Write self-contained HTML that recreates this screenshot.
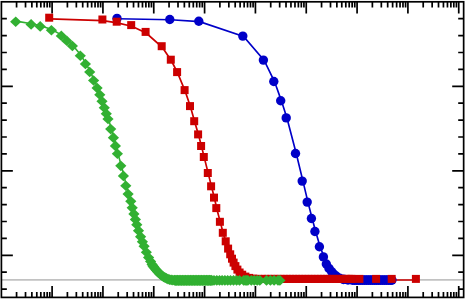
<!DOCTYPE html>
<html><head><meta charset="utf-8"><title>chart</title>
<style>html,body{margin:0;padding:0;background:#fff;font-family:"Liberation Sans",sans-serif;}svg{display:block}</style>
</head><body>
<svg width="465" height="299" viewBox="0 0 465 299">
<rect x="0" y="0" width="465" height="299" fill="#fff"/>
<line x1="2" y1="279.9" x2="463" y2="279.9" stroke="#c2c2c2" stroke-width="1.75"/>
<path d="M16.57 1.8 V7.50 M16.57 297.4 V292.10 M25.52 1.8 V7.50 M25.52 297.4 V292.10 M31.87 1.8 V7.50 M31.87 297.4 V292.10 M36.80 1.8 V7.50 M36.80 297.4 V292.10 M40.82 1.8 V7.50 M40.82 297.4 V292.10 M44.23 1.8 V7.50 M44.23 297.4 V292.10 M47.17 1.8 V7.50 M47.17 297.4 V292.10 M49.77 1.8 V7.50 M49.77 297.4 V292.10 M52.10 1.8 V13.50 M52.10 297.4 V286.10 M67.40 1.8 V7.50 M67.40 297.4 V292.10 M76.35 1.8 V7.50 M76.35 297.4 V292.10 M82.70 1.8 V7.50 M82.70 297.4 V292.10 M87.63 1.8 V7.50 M87.63 297.4 V292.10 M91.65 1.8 V7.50 M91.65 297.4 V292.10 M95.06 1.8 V7.50 M95.06 297.4 V292.10 M98.00 1.8 V7.50 M98.00 297.4 V292.10 M100.60 1.8 V7.50 M100.60 297.4 V292.10 M102.93 1.8 V13.50 M102.93 297.4 V286.10 M118.23 1.8 V7.50 M118.23 297.4 V292.10 M127.18 1.8 V7.50 M127.18 297.4 V292.10 M133.53 1.8 V7.50 M133.53 297.4 V292.10 M138.46 1.8 V7.50 M138.46 297.4 V292.10 M142.48 1.8 V7.50 M142.48 297.4 V292.10 M145.89 1.8 V7.50 M145.89 297.4 V292.10 M148.83 1.8 V7.50 M148.83 297.4 V292.10 M151.43 1.8 V7.50 M151.43 297.4 V292.10 M153.76 1.8 V13.50 M153.76 297.4 V286.10 M169.06 1.8 V7.50 M169.06 297.4 V292.10 M178.01 1.8 V7.50 M178.01 297.4 V292.10 M184.36 1.8 V7.50 M184.36 297.4 V292.10 M189.29 1.8 V7.50 M189.29 297.4 V292.10 M193.31 1.8 V7.50 M193.31 297.4 V292.10 M196.72 1.8 V7.50 M196.72 297.4 V292.10 M199.66 1.8 V7.50 M199.66 297.4 V292.10 M202.26 1.8 V7.50 M202.26 297.4 V292.10 M204.59 1.8 V13.50 M204.59 297.4 V286.10 M219.89 1.8 V7.50 M219.89 297.4 V292.10 M228.84 1.8 V7.50 M228.84 297.4 V292.10 M235.19 1.8 V7.50 M235.19 297.4 V292.10 M240.12 1.8 V7.50 M240.12 297.4 V292.10 M244.14 1.8 V7.50 M244.14 297.4 V292.10 M247.55 1.8 V7.50 M247.55 297.4 V292.10 M250.49 1.8 V7.50 M250.49 297.4 V292.10 M253.09 1.8 V7.50 M253.09 297.4 V292.10 M255.42 1.8 V13.50 M255.42 297.4 V286.10 M270.72 1.8 V7.50 M270.72 297.4 V292.10 M279.67 1.8 V7.50 M279.67 297.4 V292.10 M286.02 1.8 V7.50 M286.02 297.4 V292.10 M290.95 1.8 V7.50 M290.95 297.4 V292.10 M294.97 1.8 V7.50 M294.97 297.4 V292.10 M298.38 1.8 V7.50 M298.38 297.4 V292.10 M301.32 1.8 V7.50 M301.32 297.4 V292.10 M303.92 1.8 V7.50 M303.92 297.4 V292.10 M306.25 1.8 V13.50 M306.25 297.4 V286.10 M321.55 1.8 V7.50 M321.55 297.4 V292.10 M330.50 1.8 V7.50 M330.50 297.4 V292.10 M336.85 1.8 V7.50 M336.85 297.4 V292.10 M341.78 1.8 V7.50 M341.78 297.4 V292.10 M345.80 1.8 V7.50 M345.80 297.4 V292.10 M349.21 1.8 V7.50 M349.21 297.4 V292.10 M352.15 1.8 V7.50 M352.15 297.4 V292.10 M354.75 1.8 V7.50 M354.75 297.4 V292.10 M357.08 1.8 V13.50 M357.08 297.4 V286.10 M372.38 1.8 V7.50 M372.38 297.4 V292.10 M381.33 1.8 V7.50 M381.33 297.4 V292.10 M387.68 1.8 V7.50 M387.68 297.4 V292.10 M392.61 1.8 V7.50 M392.61 297.4 V292.10 M396.63 1.8 V7.50 M396.63 297.4 V292.10 M400.04 1.8 V7.50 M400.04 297.4 V292.10 M402.98 1.8 V7.50 M402.98 297.4 V292.10 M405.58 1.8 V7.50 M405.58 297.4 V292.10 M407.91 1.8 V13.50 M407.91 297.4 V286.10 M423.21 1.8 V7.50 M423.21 297.4 V292.10 M432.16 1.8 V7.50 M432.16 297.4 V292.10 M438.51 1.8 V7.50 M438.51 297.4 V292.10 M443.44 1.8 V7.50 M443.44 297.4 V292.10 M447.46 1.8 V7.50 M447.46 297.4 V292.10 M450.87 1.8 V7.50 M450.87 297.4 V292.10 M453.81 1.8 V7.50 M453.81 297.4 V292.10 M456.41 1.8 V7.50 M456.41 297.4 V292.10 M458.74 1.8 V13.50 M458.74 297.4 V286.10 M1.4 18.70 H6.85 M463.65 18.70 H458.20 M1.4 35.60 H6.85 M463.65 35.60 H458.20 M1.4 52.50 H6.85 M463.65 52.50 H458.20 M1.4 69.40 H6.85 M463.65 69.40 H458.20 M1.4 86.30 H12.85 M463.65 86.30 H452.20 M1.4 103.20 H6.85 M463.65 103.20 H458.20 M1.4 120.10 H6.85 M463.65 120.10 H458.20 M1.4 137.00 H6.85 M463.65 137.00 H458.20 M1.4 153.90 H6.85 M463.65 153.90 H458.20 M1.4 170.80 H12.85 M463.65 170.80 H452.20 M1.4 187.70 H6.85 M463.65 187.70 H458.20 M1.4 204.60 H6.85 M463.65 204.60 H458.20 M1.4 221.50 H6.85 M463.65 221.50 H458.20 M1.4 238.40 H6.85 M463.65 238.40 H458.20 M1.4 255.30 H12.85 M463.65 255.30 H452.20 M1.4 272.20 H6.85 M463.65 272.20 H458.20 M1.4 289.10 H6.85 M463.65 289.10 H458.20" stroke="#000" stroke-width="1.7" fill="none"/>
<polyline points="117.8,18.7 170.6,19.8 199.6,21.6 243.6,36.4 264.2,60.4 274.6,81.8 281.5,101.1 287.0,118.2 296.3,153.8 303.0,181.4 308.0,202.4 312.2,218.8 315.7,231.8 320.2,247.1 324.2,257.2 327.1,264.3 329.8,268.7 332.5,272.0 334.7,274.6 337.2,276.6 340.4,278.5 344.3,279.7 348.8,280.2 353.3,280.4 355.3,280.4 357.3,280.4 359.3,280.4 361.3,280.4 363.3,280.4 365.3,280.4 367.3,280.4 369.3,280.4 371.3,280.4 373.3,280.4 375.3,280.4 377.3,280.4 379.3,280.4 381.3,280.4 383.3,280.4 385.3,280.4 387.3,280.4 389.3,280.4 391.3,280.4 392.6,280.4" fill="none" stroke="#0000c8" stroke-width="1.65"/>
<polyline points="49.8,18.8 103.0,20.6 117.3,22.8 131.8,26.2 146.2,33.0 162.3,47.3 171.4,60.8 177.7,73.2 185.2,91.2 190.6,107.2 194.8,122.3 198.7,135.5 201.7,147.1 204.4,158.1 208.4,174.1 211.7,187.4 214.6,198.7 216.9,209.2 220.5,222.9 223.4,233.9 226.3,242.4 228.7,249.7 230.8,255.4 232.6,259.8 234.2,263.7 236.0,267.2 238.0,270.7 240.2,273.6 242.8,275.8 246.0,277.7 249.8,279.0 254.1,279.7 258.6,280.0 262.6,280.0 265.7,280.0 268.8,280.0 271.9,280.0 275.0,280.0 278.1,280.0 281.2,280.0 284.3,280.0 287.4,280.0 290.5,280.0 293.6,280.0 296.7,280.0 299.8,280.0 302.9,280.0 306.0,280.0 309.1,280.0 312.2,280.0 315.3,280.0 318.4,280.0 321.5,280.0 324.6,280.0 327.7,280.0 330.8,280.0 333.9,280.0 337.0,280.0 340.1,280.0 343.2,280.0 346.3,280.0 349.4,280.0 352.5,280.0 351.6,280.0 360.0,280.0 376.7,280.0 392.3,280.0 416.5,280.0" fill="none" stroke="#cc0000" stroke-width="1.7"/>
<polyline points="16.1,21.1 31.5,23.7 40.6,25.7 51.8,29.6 61.7,35.1 67.2,40.1 72.8,45.3 80.7,55.0 85.8,63.2 90.1,71.3 94.0,79.8 97.5,87.2 100.2,94.0 102.4,100.6 104.7,107.0 106.7,113.0 108.4,118.3 111.1,128.4 113.8,137.0 115.8,145.2 117.8,153.1 121.2,165.2 123.8,175.2 126.2,185.1 128.5,193.4 131.2,200.7 132.6,207.2 134.3,213.2 135.8,218.8 137.2,224.0 138.9,230.0 141.0,236.0 142.8,241.1 144.5,245.6 146.8,251.6 149.0,256.9 151.0,260.8 152.5,263.8 153.4,265.4 154.2,266.4 155.4,267.9 156.6,269.4 157.8,270.7 159.0,271.9 160.2,273.2 161.4,274.2 162.7,275.2 164.0,276.2 165.4,276.9 166.9,277.7 168.4,278.4 170.0,278.9 171.6,279.2 173.2,279.4 174.8,279.4 175.6,279.9 176.4,279.4 177.2,279.9 178.0,279.4 178.8,279.9 179.6,279.4 180.4,279.9 181.2,279.4 182.0,279.9 182.8,279.4 183.6,279.9 184.4,279.4 185.2,279.9 186.0,279.4 186.8,279.9 187.6,279.4 188.4,279.9 189.2,279.4 190.0,279.9 190.8,279.4 191.6,279.9 192.4,279.4 193.2,279.9 194.0,279.4 194.8,279.9 195.6,279.4 196.4,279.9 197.2,279.4 198.0,279.9 198.8,279.4 199.6,279.9 200.4,279.4 201.2,279.9 202.0,279.4 202.8,279.9 203.6,279.4 204.4,279.9 205.2,279.4 206.0,279.9 206.8,279.4 207.6,279.9 208.4,279.4 209.2,279.9 210.0,279.4 210.8,279.9 211.6,279.4 212.4,279.9 214.4,279.7 217.2,279.7 219.9,279.7 222.5,279.7 225.3,279.7 228.1,279.7 230.9,279.7 233.9,279.7 237.0,279.7 239.9,279.7 244.1,279.7 245.6,279.7 247.0,279.7 248.3,279.7 251.8,279.7 254.7,279.7 257.6,279.7 260.2,279.7 266.9,279.7 270.8,279.7 274.5,279.7 278.4,279.7 280.3,279.7" fill="none" stroke="#32b032" stroke-width="1.6"/>
<circle cx="117.0" cy="18.4" r="4.7" fill="#0000c8"/>
<circle cx="169.8" cy="19.5" r="4.7" fill="#0000c8"/>
<circle cx="198.8" cy="21.3" r="4.7" fill="#0000c8"/>
<circle cx="242.8" cy="36.1" r="4.7" fill="#0000c8"/>
<circle cx="263.4" cy="60.1" r="4.7" fill="#0000c8"/>
<circle cx="273.8" cy="81.5" r="4.7" fill="#0000c8"/>
<circle cx="280.7" cy="100.8" r="4.7" fill="#0000c8"/>
<circle cx="286.2" cy="117.9" r="4.7" fill="#0000c8"/>
<circle cx="295.5" cy="153.5" r="4.7" fill="#0000c8"/>
<circle cx="302.2" cy="181.1" r="4.7" fill="#0000c8"/>
<circle cx="307.2" cy="202.1" r="4.7" fill="#0000c8"/>
<circle cx="311.4" cy="218.5" r="4.7" fill="#0000c8"/>
<circle cx="314.9" cy="231.5" r="4.7" fill="#0000c8"/>
<circle cx="319.4" cy="246.8" r="4.7" fill="#0000c8"/>
<circle cx="323.4" cy="256.9" r="4.7" fill="#0000c8"/>
<circle cx="326.3" cy="264.0" r="4.7" fill="#0000c8"/>
<circle cx="329.0" cy="268.4" r="4.7" fill="#0000c8"/>
<circle cx="331.7" cy="271.7" r="4.7" fill="#0000c8"/>
<circle cx="333.9" cy="274.3" r="4.7" fill="#0000c8"/>
<circle cx="336.4" cy="276.3" r="4.7" fill="#0000c8"/>
<circle cx="339.6" cy="278.2" r="4.7" fill="#0000c8"/>
<circle cx="343.5" cy="279.4" r="4.85" fill="#0000c8"/>
<circle cx="348.0" cy="279.9" r="4.85" fill="#0000c8"/>
<circle cx="352.5" cy="280.1" r="4.85" fill="#0000c8"/>
<circle cx="354.5" cy="280.1" r="4.85" fill="#0000c8"/>
<circle cx="356.5" cy="280.1" r="4.85" fill="#0000c8"/>
<circle cx="358.5" cy="280.1" r="4.85" fill="#0000c8"/>
<circle cx="360.5" cy="280.1" r="4.85" fill="#0000c8"/>
<circle cx="362.5" cy="280.1" r="4.85" fill="#0000c8"/>
<circle cx="364.5" cy="280.1" r="4.85" fill="#0000c8"/>
<circle cx="366.5" cy="280.1" r="4.85" fill="#0000c8"/>
<circle cx="368.5" cy="280.1" r="4.85" fill="#0000c8"/>
<circle cx="370.5" cy="280.1" r="4.85" fill="#0000c8"/>
<circle cx="372.5" cy="280.1" r="4.85" fill="#0000c8"/>
<circle cx="374.5" cy="280.1" r="4.85" fill="#0000c8"/>
<circle cx="376.5" cy="280.1" r="4.85" fill="#0000c8"/>
<circle cx="378.5" cy="280.1" r="4.85" fill="#0000c8"/>
<circle cx="380.5" cy="280.1" r="4.85" fill="#0000c8"/>
<circle cx="382.5" cy="280.1" r="4.85" fill="#0000c8"/>
<circle cx="384.5" cy="280.1" r="4.85" fill="#0000c8"/>
<circle cx="386.5" cy="280.1" r="4.85" fill="#0000c8"/>
<circle cx="388.5" cy="280.1" r="4.85" fill="#0000c8"/>
<circle cx="390.5" cy="280.1" r="4.85" fill="#0000c8"/>
<circle cx="391.8" cy="280.1" r="4.85" fill="#0000c8"/>
<rect x="45.2" y="13.7" width="8" height="8" fill="#cc0000"/>
<rect x="98.4" y="15.5" width="8" height="8" fill="#cc0000"/>
<rect x="112.7" y="17.7" width="8" height="8" fill="#cc0000"/>
<rect x="127.2" y="21.1" width="8" height="8" fill="#cc0000"/>
<rect x="141.6" y="27.9" width="8" height="8" fill="#cc0000"/>
<rect x="157.7" y="42.2" width="8" height="8" fill="#cc0000"/>
<rect x="166.8" y="55.7" width="8" height="8" fill="#cc0000"/>
<rect x="173.1" y="68.1" width="8" height="8" fill="#cc0000"/>
<rect x="180.6" y="86.1" width="8" height="8" fill="#cc0000"/>
<rect x="186.0" y="102.1" width="8" height="8" fill="#cc0000"/>
<rect x="190.2" y="117.2" width="8" height="8" fill="#cc0000"/>
<rect x="194.1" y="130.4" width="8" height="8" fill="#cc0000"/>
<rect x="197.1" y="142.0" width="8" height="8" fill="#cc0000"/>
<rect x="199.8" y="153.0" width="8" height="8" fill="#cc0000"/>
<rect x="203.8" y="169.0" width="8" height="8" fill="#cc0000"/>
<rect x="207.1" y="182.3" width="8" height="8" fill="#cc0000"/>
<rect x="210.0" y="193.6" width="8" height="8" fill="#cc0000"/>
<rect x="212.3" y="204.1" width="8" height="8" fill="#cc0000"/>
<rect x="215.9" y="217.8" width="8" height="8" fill="#cc0000"/>
<rect x="218.8" y="228.8" width="8" height="8" fill="#cc0000"/>
<rect x="221.7" y="237.3" width="8" height="8" fill="#cc0000"/>
<rect x="224.1" y="244.6" width="8" height="8" fill="#cc0000"/>
<rect x="226.2" y="250.3" width="8" height="8" fill="#cc0000"/>
<rect x="228.0" y="254.7" width="8" height="8" fill="#cc0000"/>
<rect x="229.6" y="258.6" width="8" height="8" fill="#cc0000"/>
<rect x="231.4" y="262.1" width="8" height="8" fill="#cc0000"/>
<rect x="233.4" y="265.6" width="8" height="8" fill="#cc0000"/>
<rect x="235.6" y="268.5" width="8" height="8" fill="#cc0000"/>
<rect x="238.2" y="270.7" width="8" height="8" fill="#cc0000"/>
<rect x="241.4" y="272.6" width="8" height="8" fill="#cc0000"/>
<rect x="245.2" y="273.9" width="8" height="8" fill="#cc0000"/>
<rect x="249.5" y="274.6" width="8" height="8" fill="#cc0000"/>
<rect x="254.0" y="274.9" width="8" height="8" fill="#cc0000"/>
<rect x="258.0" y="274.9" width="8" height="8" fill="#cc0000"/>
<rect x="261.1" y="274.9" width="8" height="8" fill="#cc0000"/>
<rect x="264.2" y="274.9" width="8" height="8" fill="#cc0000"/>
<rect x="267.3" y="274.9" width="8" height="8" fill="#cc0000"/>
<rect x="270.4" y="274.9" width="8" height="8" fill="#cc0000"/>
<rect x="273.5" y="274.9" width="8" height="8" fill="#cc0000"/>
<rect x="276.6" y="274.9" width="8" height="8" fill="#cc0000"/>
<rect x="279.7" y="274.9" width="8" height="8" fill="#cc0000"/>
<rect x="282.8" y="274.9" width="8" height="8" fill="#cc0000"/>
<rect x="285.9" y="274.9" width="8" height="8" fill="#cc0000"/>
<rect x="289.0" y="274.9" width="8" height="8" fill="#cc0000"/>
<rect x="292.1" y="274.9" width="8" height="8" fill="#cc0000"/>
<rect x="295.2" y="274.9" width="8" height="8" fill="#cc0000"/>
<rect x="298.3" y="274.9" width="8" height="8" fill="#cc0000"/>
<rect x="301.4" y="274.9" width="8" height="8" fill="#cc0000"/>
<rect x="304.5" y="274.9" width="8" height="8" fill="#cc0000"/>
<rect x="307.6" y="274.9" width="8" height="8" fill="#cc0000"/>
<rect x="310.7" y="274.9" width="8" height="8" fill="#cc0000"/>
<rect x="313.8" y="274.9" width="8" height="8" fill="#cc0000"/>
<rect x="316.9" y="274.9" width="8" height="8" fill="#cc0000"/>
<rect x="320.0" y="274.9" width="8" height="8" fill="#cc0000"/>
<rect x="323.1" y="274.9" width="8" height="8" fill="#cc0000"/>
<rect x="326.2" y="274.9" width="8" height="8" fill="#cc0000"/>
<rect x="329.3" y="274.9" width="8" height="8" fill="#cc0000"/>
<rect x="332.4" y="274.9" width="8" height="8" fill="#cc0000"/>
<rect x="335.5" y="274.9" width="8" height="8" fill="#cc0000"/>
<rect x="338.6" y="274.9" width="8" height="8" fill="#cc0000"/>
<rect x="341.7" y="274.9" width="8" height="8" fill="#cc0000"/>
<rect x="344.8" y="274.9" width="8" height="8" fill="#cc0000"/>
<rect x="347.9" y="274.9" width="8" height="8" fill="#cc0000"/>
<rect x="347.0" y="274.9" width="8" height="8" fill="#cc0000"/>
<rect x="355.4" y="274.9" width="8" height="8" fill="#cc0000"/>
<rect x="372.1" y="274.9" width="8" height="8" fill="#cc0000"/>
<rect x="387.7" y="274.9" width="8" height="8" fill="#cc0000"/>
<rect x="411.9" y="274.9" width="8" height="8" fill="#cc0000"/>
<path d="M15.7 16.4 L21.3 21.8 L15.7 27.1 L10.1 21.8 Z" fill="#32b032"/>
<path d="M31.1 19.1 L36.7 24.4 L31.1 29.7 L25.5 24.4 Z" fill="#32b032"/>
<path d="M40.2 21.1 L45.8 26.4 L40.2 31.7 L34.6 26.4 Z" fill="#32b032"/>
<path d="M51.4 24.9 L57.0 30.2 L51.4 35.5 L45.8 30.2 Z" fill="#32b032"/>
<path d="M61.3 30.6 L66.9 35.9 L61.3 41.1 L55.7 35.9 Z" fill="#32b032"/>
<path d="M66.8 35.6 L72.4 40.9 L66.8 46.1 L61.2 40.9 Z" fill="#32b032"/>
<path d="M72.4 40.8 L78.0 46.0 L72.4 51.3 L66.8 46.0 Z" fill="#32b032"/>
<path d="M80.3 50.5 L85.9 55.8 L80.3 61.0 L74.7 55.8 Z" fill="#32b032"/>
<path d="M85.4 58.7 L91.0 64.0 L85.4 69.2 L79.8 64.0 Z" fill="#32b032"/>
<path d="M89.7 66.8 L95.3 72.0 L89.7 77.3 L84.1 72.0 Z" fill="#32b032"/>
<path d="M93.6 75.2 L99.2 80.5 L93.6 85.8 L88.0 80.5 Z" fill="#32b032"/>
<path d="M97.1 82.7 L102.7 88.0 L97.1 93.2 L91.5 88.0 Z" fill="#32b032"/>
<path d="M99.8 89.4 L105.4 94.7 L99.8 100.0 L94.2 94.7 Z" fill="#32b032"/>
<path d="M102.0 96.0 L107.6 101.3 L102.0 106.6 L96.4 101.3 Z" fill="#32b032"/>
<path d="M104.3 102.4 L109.9 107.7 L104.3 113.0 L98.7 107.7 Z" fill="#32b032"/>
<path d="M106.3 108.4 L111.9 113.7 L106.3 119.0 L100.7 113.7 Z" fill="#32b032"/>
<path d="M108.0 113.8 L113.6 119.0 L108.0 124.3 L102.4 119.0 Z" fill="#32b032"/>
<path d="M110.7 123.8 L116.3 129.1 L110.7 134.4 L105.1 129.1 Z" fill="#32b032"/>
<path d="M113.4 132.3 L119.0 137.7 L113.4 143.0 L107.8 137.7 Z" fill="#32b032"/>
<path d="M115.4 140.6 L121.0 145.9 L115.4 151.2 L109.8 145.9 Z" fill="#32b032"/>
<path d="M117.4 148.4 L123.0 153.8 L117.4 159.1 L111.8 153.8 Z" fill="#32b032"/>
<path d="M120.8 160.5 L126.4 165.8 L120.8 171.2 L115.2 165.8 Z" fill="#32b032"/>
<path d="M123.4 170.6 L129.0 175.9 L123.4 181.2 L117.8 175.9 Z" fill="#32b032"/>
<path d="M125.8 180.4 L131.4 185.8 L125.8 191.1 L120.2 185.8 Z" fill="#32b032"/>
<path d="M128.1 188.8 L133.7 194.1 L128.1 199.4 L122.5 194.1 Z" fill="#32b032"/>
<path d="M130.8 196.0 L136.4 201.3 L130.8 206.7 L125.2 201.3 Z" fill="#32b032"/>
<path d="M132.2 202.5 L137.8 207.8 L132.2 213.2 L126.6 207.8 Z" fill="#32b032"/>
<path d="M133.9 208.6 L139.5 213.9 L133.9 219.2 L128.3 213.9 Z" fill="#32b032"/>
<path d="M135.4 214.1 L141.0 219.4 L135.4 224.8 L129.8 219.4 Z" fill="#32b032"/>
<path d="M136.8 219.3 L142.4 224.7 L136.8 230.0 L131.2 224.7 Z" fill="#32b032"/>
<path d="M138.5 225.3 L144.1 230.7 L138.5 236.0 L132.9 230.7 Z" fill="#32b032"/>
<path d="M140.6 231.3 L146.2 236.7 L140.6 242.0 L135.0 236.7 Z" fill="#32b032"/>
<path d="M142.4 236.4 L148.0 241.8 L142.4 247.1 L136.8 241.8 Z" fill="#32b032"/>
<path d="M144.1 240.9 L149.7 246.2 L144.1 251.6 L138.5 246.2 Z" fill="#32b032"/>
<path d="M146.3 246.9 L151.9 252.2 L146.3 257.6 L140.8 252.2 Z" fill="#32b032"/>
<path d="M148.6 252.3 L154.2 257.6 L148.6 262.9 L143.0 257.6 Z" fill="#32b032"/>
<path d="M150.6 256.1 L156.2 261.4 L150.6 266.8 L145.0 261.4 Z" fill="#32b032"/>
<path d="M152.1 259.1 L157.7 264.4 L152.1 269.8 L146.5 264.4 Z" fill="#32b032"/>
<path d="M153.0 260.8 L158.6 266.1 L153.0 271.4 L147.4 266.1 Z" fill="#32b032"/>
<path d="M153.8 261.8 L159.4 267.1 L153.8 272.4 L148.2 267.1 Z" fill="#32b032"/>
<path d="M155.0 263.3 L160.6 268.6 L155.0 273.9 L149.4 268.6 Z" fill="#32b032"/>
<path d="M156.2 264.8 L161.8 270.1 L156.2 275.4 L150.6 270.1 Z" fill="#32b032"/>
<path d="M157.4 266.1 L163.0 271.4 L157.4 276.7 L151.8 271.4 Z" fill="#32b032"/>
<path d="M158.6 267.3 L164.2 272.6 L158.6 277.9 L153.0 272.6 Z" fill="#32b032"/>
<path d="M159.8 268.6 L165.4 273.9 L159.8 279.2 L154.2 273.9 Z" fill="#32b032"/>
<path d="M161.0 269.6 L166.6 274.9 L161.0 280.2 L155.4 274.9 Z" fill="#32b032"/>
<path d="M162.3 270.6 L167.9 275.9 L162.3 281.2 L156.7 275.9 Z" fill="#32b032"/>
<path d="M163.6 271.6 L169.2 276.9 L163.6 282.2 L158.0 276.9 Z" fill="#32b032"/>
<path d="M165.0 272.3 L170.6 277.6 L165.0 282.9 L159.4 277.6 Z" fill="#32b032"/>
<path d="M166.5 273.1 L172.1 278.4 L166.5 283.7 L160.9 278.4 Z" fill="#32b032"/>
<path d="M168.0 273.8 L173.6 279.1 L168.0 284.4 L162.4 279.1 Z" fill="#32b032"/>
<path d="M169.6 274.2 L175.2 279.6 L169.6 284.9 L164.0 279.6 Z" fill="#32b032"/>
<path d="M171.2 274.6 L176.8 279.9 L171.2 285.2 L165.6 279.9 Z" fill="#32b032"/>
<path d="M172.8 274.8 L178.4 280.1 L172.8 285.4 L167.2 280.1 Z" fill="#32b032"/>
<path d="M174.4 274.8 L180.0 280.1 L174.4 285.4 L168.8 280.1 Z" fill="#32b032"/>
<path d="M175.2 275.2 L180.8 280.6 L175.2 285.9 L169.6 280.6 Z" fill="#32b032"/>
<path d="M176.0 274.8 L181.6 280.1 L176.0 285.4 L170.4 280.1 Z" fill="#32b032"/>
<path d="M176.8 275.2 L182.4 280.6 L176.8 285.9 L171.2 280.6 Z" fill="#32b032"/>
<path d="M177.6 274.8 L183.2 280.1 L177.6 285.4 L172.0 280.1 Z" fill="#32b032"/>
<path d="M178.4 275.2 L184.0 280.6 L178.4 285.9 L172.8 280.6 Z" fill="#32b032"/>
<path d="M179.2 274.8 L184.8 280.1 L179.2 285.4 L173.6 280.1 Z" fill="#32b032"/>
<path d="M180.0 275.2 L185.6 280.6 L180.0 285.9 L174.4 280.6 Z" fill="#32b032"/>
<path d="M180.8 274.8 L186.4 280.1 L180.8 285.4 L175.2 280.1 Z" fill="#32b032"/>
<path d="M181.6 275.2 L187.2 280.6 L181.6 285.9 L176.0 280.6 Z" fill="#32b032"/>
<path d="M182.4 274.8 L188.0 280.1 L182.4 285.4 L176.8 280.1 Z" fill="#32b032"/>
<path d="M183.2 275.2 L188.8 280.6 L183.2 285.9 L177.6 280.6 Z" fill="#32b032"/>
<path d="M184.0 274.8 L189.6 280.1 L184.0 285.4 L178.4 280.1 Z" fill="#32b032"/>
<path d="M184.8 275.2 L190.4 280.6 L184.8 285.9 L179.2 280.6 Z" fill="#32b032"/>
<path d="M185.6 274.8 L191.2 280.1 L185.6 285.4 L180.0 280.1 Z" fill="#32b032"/>
<path d="M186.4 275.2 L192.0 280.6 L186.4 285.9 L180.8 280.6 Z" fill="#32b032"/>
<path d="M187.2 274.8 L192.8 280.1 L187.2 285.4 L181.6 280.1 Z" fill="#32b032"/>
<path d="M188.0 275.2 L193.6 280.6 L188.0 285.9 L182.4 280.6 Z" fill="#32b032"/>
<path d="M188.8 274.8 L194.4 280.1 L188.8 285.4 L183.2 280.1 Z" fill="#32b032"/>
<path d="M189.6 275.2 L195.2 280.6 L189.6 285.9 L184.0 280.6 Z" fill="#32b032"/>
<path d="M190.4 274.8 L196.0 280.1 L190.4 285.4 L184.8 280.1 Z" fill="#32b032"/>
<path d="M191.2 275.2 L196.8 280.6 L191.2 285.9 L185.6 280.6 Z" fill="#32b032"/>
<path d="M192.0 274.8 L197.6 280.1 L192.0 285.4 L186.4 280.1 Z" fill="#32b032"/>
<path d="M192.8 275.2 L198.4 280.6 L192.8 285.9 L187.2 280.6 Z" fill="#32b032"/>
<path d="M193.6 274.8 L199.2 280.1 L193.6 285.4 L188.0 280.1 Z" fill="#32b032"/>
<path d="M194.4 275.2 L200.0 280.6 L194.4 285.9 L188.8 280.6 Z" fill="#32b032"/>
<path d="M195.2 274.8 L200.8 280.1 L195.2 285.4 L189.6 280.1 Z" fill="#32b032"/>
<path d="M196.0 275.2 L201.6 280.6 L196.0 285.9 L190.4 280.6 Z" fill="#32b032"/>
<path d="M196.8 274.8 L202.4 280.1 L196.8 285.4 L191.2 280.1 Z" fill="#32b032"/>
<path d="M197.6 275.2 L203.2 280.6 L197.6 285.9 L192.0 280.6 Z" fill="#32b032"/>
<path d="M198.4 274.8 L204.0 280.1 L198.4 285.4 L192.8 280.1 Z" fill="#32b032"/>
<path d="M199.2 275.2 L204.8 280.6 L199.2 285.9 L193.6 280.6 Z" fill="#32b032"/>
<path d="M200.0 274.8 L205.6 280.1 L200.0 285.4 L194.4 280.1 Z" fill="#32b032"/>
<path d="M200.8 275.2 L206.4 280.6 L200.8 285.9 L195.2 280.6 Z" fill="#32b032"/>
<path d="M201.6 274.8 L207.2 280.1 L201.6 285.4 L196.0 280.1 Z" fill="#32b032"/>
<path d="M202.4 275.2 L208.0 280.6 L202.4 285.9 L196.8 280.6 Z" fill="#32b032"/>
<path d="M203.2 274.8 L208.8 280.1 L203.2 285.4 L197.6 280.1 Z" fill="#32b032"/>
<path d="M204.0 275.2 L209.6 280.6 L204.0 285.9 L198.4 280.6 Z" fill="#32b032"/>
<path d="M204.8 274.8 L210.4 280.1 L204.8 285.4 L199.2 280.1 Z" fill="#32b032"/>
<path d="M205.6 275.2 L211.2 280.6 L205.6 285.9 L200.0 280.6 Z" fill="#32b032"/>
<path d="M206.4 274.8 L212.0 280.1 L206.4 285.4 L200.8 280.1 Z" fill="#32b032"/>
<path d="M207.2 275.2 L212.8 280.6 L207.2 285.9 L201.6 280.6 Z" fill="#32b032"/>
<path d="M208.0 274.8 L213.6 280.1 L208.0 285.4 L202.4 280.1 Z" fill="#32b032"/>
<path d="M208.8 275.2 L214.4 280.6 L208.8 285.9 L203.2 280.6 Z" fill="#32b032"/>
<path d="M209.6 274.8 L215.2 280.1 L209.6 285.4 L204.0 280.1 Z" fill="#32b032"/>
<path d="M210.4 275.2 L216.0 280.6 L210.4 285.9 L204.8 280.6 Z" fill="#32b032"/>
<path d="M211.2 274.8 L216.8 280.1 L211.2 285.4 L205.6 280.1 Z" fill="#32b032"/>
<path d="M212.0 275.2 L217.6 280.6 L212.0 285.9 L206.4 280.6 Z" fill="#32b032"/>
<path d="M214.0 275.1 L219.6 280.4 L214.0 285.7 L208.4 280.4 Z" fill="#32b032"/>
<path d="M216.8 275.1 L222.4 280.4 L216.8 285.7 L211.2 280.4 Z" fill="#32b032"/>
<path d="M219.5 275.1 L225.1 280.4 L219.5 285.7 L213.9 280.4 Z" fill="#32b032"/>
<path d="M222.1 275.1 L227.7 280.4 L222.1 285.7 L216.5 280.4 Z" fill="#32b032"/>
<path d="M224.9 275.1 L230.5 280.4 L224.9 285.7 L219.3 280.4 Z" fill="#32b032"/>
<path d="M227.7 275.1 L233.3 280.4 L227.7 285.7 L222.1 280.4 Z" fill="#32b032"/>
<path d="M230.5 275.1 L236.1 280.4 L230.5 285.7 L224.9 280.4 Z" fill="#32b032"/>
<path d="M233.5 275.1 L239.1 280.4 L233.5 285.7 L227.9 280.4 Z" fill="#32b032"/>
<path d="M236.6 275.1 L242.2 280.4 L236.6 285.7 L231.0 280.4 Z" fill="#32b032"/>
<path d="M239.5 275.1 L245.1 280.4 L239.5 285.7 L233.9 280.4 Z" fill="#32b032"/>
<path d="M243.7 275.1 L249.3 280.4 L243.7 285.7 L238.1 280.4 Z" fill="#32b032"/>
<path d="M245.2 275.1 L250.8 280.4 L245.2 285.7 L239.6 280.4 Z" fill="#32b032"/>
<path d="M246.6 275.1 L252.2 280.4 L246.6 285.7 L241.0 280.4 Z" fill="#32b032"/>
<path d="M247.9 275.1 L253.5 280.4 L247.9 285.7 L242.3 280.4 Z" fill="#32b032"/>
<path d="M251.3 275.1 L256.9 280.4 L251.3 285.7 L245.8 280.4 Z" fill="#32b032"/>
<path d="M254.3 275.1 L259.9 280.4 L254.3 285.7 L248.7 280.4 Z" fill="#32b032"/>
<path d="M257.2 275.1 L262.8 280.4 L257.2 285.7 L251.6 280.4 Z" fill="#32b032"/>
<path d="M259.8 275.1 L265.4 280.4 L259.8 285.7 L254.2 280.4 Z" fill="#32b032"/>
<path d="M266.5 275.1 L272.1 280.4 L266.5 285.7 L260.9 280.4 Z" fill="#32b032"/>
<path d="M270.4 275.1 L276.0 280.4 L270.4 285.7 L264.8 280.4 Z" fill="#32b032"/>
<path d="M274.1 275.1 L279.7 280.4 L274.1 285.7 L268.5 280.4 Z" fill="#32b032"/>
<path d="M278.0 275.1 L283.6 280.4 L278.0 285.7 L272.4 280.4 Z" fill="#32b032"/>
<path d="M279.9 275.1 L285.5 280.4 L279.9 285.7 L274.3 280.4 Z" fill="#32b032"/>
<rect x="1.4" y="1.8" width="462.25" height="295.60" fill="none" stroke="#000" stroke-width="1.7"/>
</svg>
</body></html>
